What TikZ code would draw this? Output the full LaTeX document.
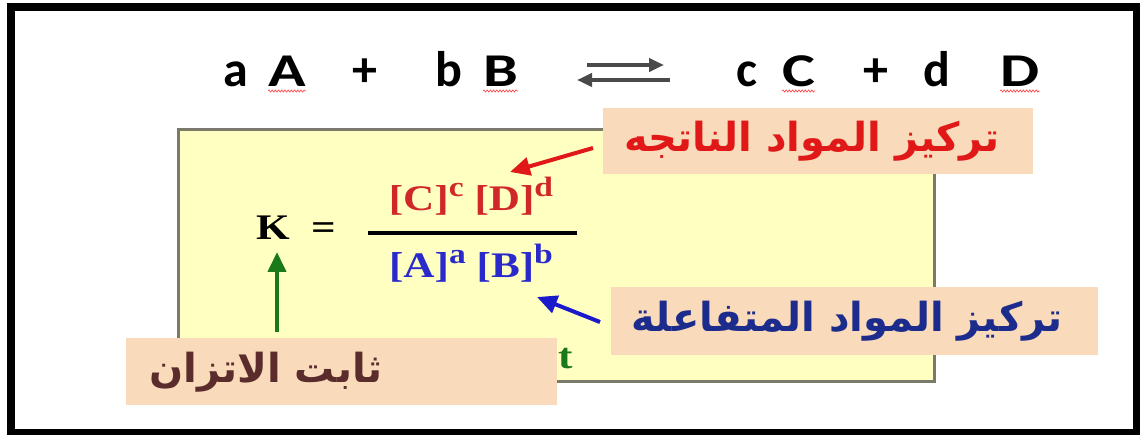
\documentclass[tikz,border=0pt]{standalone}
\usepackage{fontspec}
\usetikzlibrary{decorations.pathmorphing,arrows.meta}
\setmainfont{Liberation Serif}
\newfontfamily\eqfont{Carlito}
\newfontfamily\eqwide[FakeStretch=1.32]{Carlito}
\newfontfamily\kfont[FakeStretch=1.2]{Liberation Serif}
\newfontfamily\arabicfont[Script=Arabic]{DejaVu Sans}
\TeXXeTstate=1
\definecolor{peach}{HTML}{F9DABA}
\definecolor{paleyellow}{HTML}{FFFFC2}
\definecolor{boxedge}{HTML}{7A7A6A}
\definecolor{redtxt}{HTML}{E01818}
\definecolor{bluetxt}{HTML}{1C2C8C}
\definecolor{browntxt}{HTML}{5A2C2C}
\definecolor{numred}{HTML}{D02828}
\definecolor{denblue}{HTML}{2A2ACC}
\definecolor{kgreen}{HTML}{1A7A1A}
\definecolor{arrowgray}{HTML}{4A4A4A}
\definecolor{redarrow}{HTML}{E01818}
\definecolor{bluearrow}{HTML}{1A1ACC}
\newcommand{\sups}[1]{\raisebox{0.40em}{\fontsize{28}{28}\selectfont #1}}
\tikzset{
  eqlow/.style={anchor=base west, inner sep=0pt, font=\fontsize{50}{54}\selectfont\eqfont\bfseries},
  eqcap/.style={anchor=base west, inner sep=0pt, font=\fontsize{47}{50}\selectfont\eqwide\bfseries},
  wavy/.style={draw=red!75, line width=0.6pt, decorate, decoration={snake, amplitude=1.1pt, segment length=3.2pt}},
  eqarrow/.style={draw=arrowgray, line width=4pt, -{Triangle[length=15pt,width=13pt]}},
  formula/.style={inner sep=0pt, font=\fontsize{36}{40}\selectfont\kfont\bfseries},
  labelbox/.style={fill=peach, inner sep=0pt},
  labeltext/.style={inner sep=0pt, font=\fontsize{40}{44}\selectfont\arabicfont\bfseries},
  callout/.style={line width=4pt, -{Triangle[length=20pt,width=18pt]}}
}
\begin{document}
\begin{tikzpicture}[x=1pt,y=-1pt]
\useasboundingbox (0,0) rectangle (1140,435);
\fill[black] (7,3) rectangle (1140,435);
\fill[white] (15,11) rectangle (1133,429);

% equation
\node[eqlow] (a) at (223,87) {a};
\node[eqcap] (A) at (268,87) {A};
\node[eqlow] (p1) at (352,87) {+};
\node[eqlow] (b) at (435,87) {b};
\node[eqcap] (B) at (483,87) {B};
\coordinate (r1) at (587,65);
\coordinate (r2) at (664,65);
\coordinate (l1) at (670,80);
\coordinate (l2) at (577,80);
\draw[eqarrow] (r1) -- (r2);
\draw[eqarrow] (l1) -- (l2);
\node[eqlow] (c) at (736,87) {c};
\node[eqcap] (C) at (782,87) {C};
\node[eqlow] (p2) at (863,87) {+};
\node[eqlow] (d) at (923,87) {d};
\node[eqcap] (D) at (1000,87) {D};
\foreach \n in {A,B,C,D}{
  \draw[wavy] ([yshift=-4pt]\n.base west) -- ([yshift=-4pt]\n.base east);
}

% yellow box
\node[draw=boxedge, line width=3pt, fill=paleyellow, minimum width=756pt, minimum height=251pt, inner sep=0pt] (ybox) at (556,255.5) {};

% formula
\node[formula, anchor=base west] (K) at (256,240) {K};
\node[formula, anchor=base west] (eq) at (311,240) {=};
\coordinate (fl) at (368,233);
\coordinate (fr) at (577,233);
\draw[line width=4pt] (fl) -- (fr);
\node[formula, anchor=base, text=numred] (num) at (471,211) {[C]\sups{c} [D]\sups{d}};
\node[formula, anchor=base, text=denblue] (den) at (471,278) {[A]\sups{a} [B]\sups{b}};
\node[formula, anchor=base west, text=kgreen] (t) at (558,368) {t};

% labels
\node[labelbox, minimum width=430pt, minimum height=66pt] (prodbox) at (818,141) {};
\node[labeltext, text=redtxt] (prodtxt) at (812,141) {\beginR تركيز المواد الناتجه\endR};
\node[labelbox, minimum width=487pt, minimum height=68pt] (reacbox) at (854.5,321) {};
\node[labeltext, text=bluetxt] (reactxt) at (847,321) {\beginR تركيز المواد المتفاعلة\endR};
\node[labelbox, minimum width=431pt, minimum height=67pt] (kbox) at (341.5,371.5) {};
\node[labeltext, text=browntxt] (ktxt) at (266,372) {\beginR ثابت الاتزان\endR};

% callout arrows
\coordinate (rt) at (593,148);
\coordinate (rh) at (510,172);
\draw[callout, draw=redarrow, color=redarrow] (rt) -- (rh);
\coordinate (bt) at (600,322);
\coordinate (bh) at (537,297);
\draw[callout, draw=bluearrow, color=bluearrow] (bt) -- (bh);
\coordinate (gt) at (277,332);
\coordinate (gh) at (277,252);
\draw[callout, draw=kgreen, color=kgreen] (gt) -- (gh);
\end{tikzpicture}
\end{document}
